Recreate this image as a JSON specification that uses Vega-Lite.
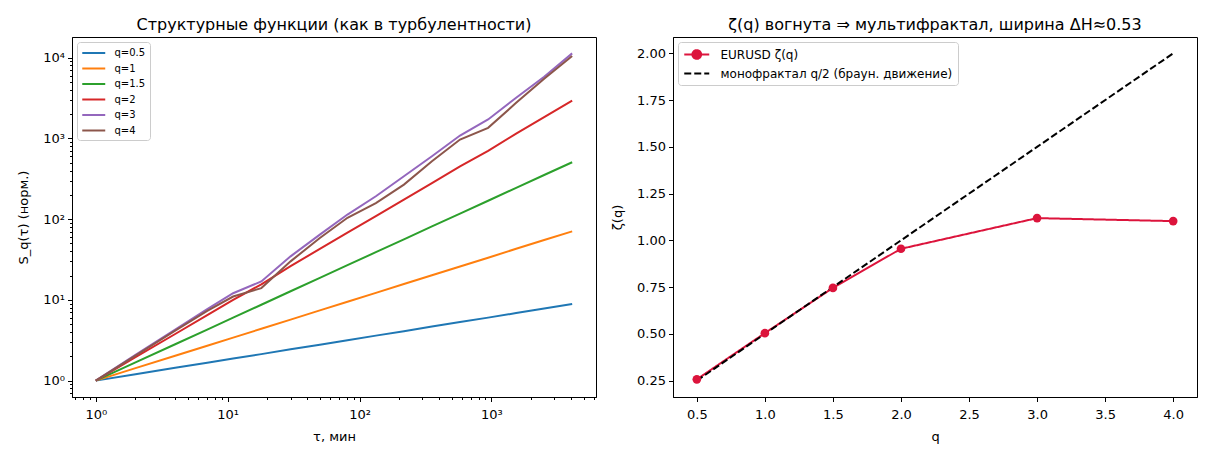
{
  "$schema": "https://vega.github.io/schema/vega-lite/v6.json",
  "padding": {"left": 17, "top": 16, "right": 5, "bottom": 5},
  "spacing": 14,
  "background": "white",
  "config": {
    "font": "DejaVu Sans",
    "view": {"stroke": "black", "strokeWidth": 1},
    "title": {"font": "DejaVu Sans", "fontSize": 16, "fontWeight": "normal", "color": "black", "offset": 4},
    "axis": {
      "grid": false,
      "labelFont": "DejaVu Sans", "labelFontSize": 13, "labelColor": "black",
      "titleFont": "DejaVu Sans", "titleFontSize": 13, "titleFontWeight": "normal", "titleColor": "black",
      "tickColor": "black", "domainColor": "black", "tickSize": 4.5, "labelPadding": 3
    },
    "axisX": {"labelPadding": 7, "titlePadding": 9},
    "axisY": {"labelPadding": 3, "titlePadding": 12},
    "legend": {"labelFont": "DejaVu Sans", "labelColor": "black", "title": null, "labelLimit": 0}
  },
  "datasets": {
    "sq": [
      {"tau": 1, "S": 1, "series": "q=0.5"}, {"tau": 2, "S": 1.2, "series": "q=0.5"}, {"tau": 4, "S": 1.44, "series": "q=0.5"}, {"tau": 7, "S": 1.67, "series": "q=0.5"}, {"tau": 11, "S": 1.88, "series": "q=0.5"}, {"tau": 18, "S": 2.13, "series": "q=0.5"}, {"tau": 30, "S": 2.44, "series": "q=0.5"}, {"tau": 50, "S": 2.79, "series": "q=0.5"}, {"tau": 81, "S": 3.17, "series": "q=0.5"}, {"tau": 133, "S": 3.61, "series": "q=0.5"}, {"tau": 217, "S": 4.1, "series": "q=0.5"}, {"tau": 354, "S": 4.67, "series": "q=0.5"}, {"tau": 578, "S": 5.31, "series": "q=0.5"}, {"tau": 944, "S": 6.03, "series": "q=0.5"}, {"tau": 1540, "S": 6.86, "series": "q=0.5"}, {"tau": 2512, "S": 7.8, "series": "q=0.5"}, {"tau": 4096, "S": 8.87, "series": "q=0.5"},
      {"tau": 1, "S": 1, "series": "q=1"}, {"tau": 2, "S": 1.43, "series": "q=1"}, {"tau": 4, "S": 2.03, "series": "q=1"}, {"tau": 7, "S": 2.71, "series": "q=1"}, {"tau": 11, "S": 3.41, "series": "q=1"}, {"tau": 18, "S": 4.39, "series": "q=1"}, {"tau": 30, "S": 5.7, "series": "q=1"}, {"tau": 50, "S": 7.41, "series": "q=1"}, {"tau": 81, "S": 9.48, "series": "q=1"}, {"tau": 133, "S": 12.2, "series": "q=1"}, {"tau": 217, "S": 15.7, "series": "q=1"}, {"tau": 354, "S": 20.2, "series": "q=1"}, {"tau": 578, "S": 25.9, "series": "q=1"}, {"tau": 944, "S": 33.3, "series": "q=1"}, {"tau": 1540, "S": 42.9, "series": "q=1"}, {"tau": 2512, "S": 55.1, "series": "q=1"}, {"tau": 4096, "S": 70.6, "series": "q=1"},
      {"tau": 1, "S": 1, "series": "q=1.5"}, {"tau": 2, "S": 1.68, "series": "q=1.5"}, {"tau": 4, "S": 2.82, "series": "q=1.5"}, {"tau": 7, "S": 4.29, "series": "q=1.5"}, {"tau": 11, "S": 6.02, "series": "q=1.5"}, {"tau": 18, "S": 8.71, "series": "q=1.5"}, {"tau": 30, "S": 12.8, "series": "q=1.5"}, {"tau": 50, "S": 18.7, "series": "q=1.5"}, {"tau": 81, "S": 26.9, "series": "q=1.5"}, {"tau": 133, "S": 39.0, "series": "q=1.5"}, {"tau": 217, "S": 56.2, "series": "q=1.5"}, {"tau": 354, "S": 81.2, "series": "q=1.5"}, {"tau": 578, "S": 117, "series": "q=1.5"}, {"tau": 944, "S": 169, "series": "q=1.5"}, {"tau": 1540, "S": 244, "series": "q=1.5"}, {"tau": 2512, "S": 352, "series": "q=1.5"}, {"tau": 4096, "S": 507, "series": "q=1.5"},
      {"tau": 1, "S": 1, "series": "q=2"}, {"tau": 2, "S": 1.95, "series": "q=2"}, {"tau": 4, "S": 3.78, "series": "q=2"}, {"tau": 7, "S": 6.47, "series": "q=2"}, {"tau": 11, "S": 9.98, "series": "q=2"}, {"tau": 18, "S": 15.6, "series": "q=2"}, {"tau": 30, "S": 26.2, "series": "q=2"}, {"tau": 50, "S": 42.8, "series": "q=2"}, {"tau": 81, "S": 67.9, "series": "q=2"}, {"tau": 133, "S": 109, "series": "q=2"}, {"tau": 217, "S": 175, "series": "q=2"}, {"tau": 354, "S": 280, "series": "q=2"}, {"tau": 578, "S": 449, "series": "q=2"}, {"tau": 944, "S": 700, "series": "q=2"}, {"tau": 1540, "S": 1148, "series": "q=2"}, {"tau": 2512, "S": 1837, "series": "q=2"}, {"tau": 4096, "S": 2931, "series": "q=2"},
      {"tau": 1, "S": 1, "series": "q=3"}, {"tau": 2, "S": 2.08, "series": "q=3"}, {"tau": 4, "S": 4.29, "series": "q=3"}, {"tau": 7, "S": 7.67, "series": "q=3"}, {"tau": 11, "S": 12.1, "series": "q=3"}, {"tau": 18, "S": 16.9, "series": "q=3"}, {"tau": 30, "S": 34.6, "series": "q=3"}, {"tau": 50, "S": 64.3, "series": "q=3"}, {"tau": 81, "S": 114, "series": "q=3"}, {"tau": 133, "S": 192, "series": "q=3"}, {"tau": 217, "S": 340, "series": "q=3"}, {"tau": 354, "S": 601, "series": "q=3"}, {"tau": 578, "S": 1086, "series": "q=3"}, {"tau": 944, "S": 1718, "series": "q=3"}, {"tau": 1540, "S": 3192, "series": "q=3"}, {"tau": 2512, "S": 5808, "series": "q=3"}, {"tau": 4096, "S": 11300, "series": "q=3"},
      {"tau": 1, "S": 1, "series": "q=4"}, {"tau": 2, "S": 2.04, "series": "q=4"}, {"tau": 4, "S": 4.17, "series": "q=4"}, {"tau": 7, "S": 7.33, "series": "q=4"}, {"tau": 11, "S": 11.0, "series": "q=4"}, {"tau": 18, "S": 14.0, "series": "q=4"}, {"tau": 30, "S": 30.0, "series": "q=4"}, {"tau": 50, "S": 58.5, "series": "q=4"}, {"tau": 81, "S": 104, "series": "q=4"}, {"tau": 133, "S": 158, "series": "q=4"}, {"tau": 217, "S": 268, "series": "q=4"}, {"tau": 354, "S": 521, "series": "q=4"}, {"tau": 578, "S": 968, "series": "q=4"}, {"tau": 944, "S": 1352, "series": "q=4"}, {"tau": 1540, "S": 2761, "series": "q=4"}, {"tau": 2512, "S": 5483, "series": "q=4"}, {"tau": 4096, "S": 10470, "series": "q=4"}
    ],
    "zeta": [
      {"q": 0.5, "zeta": 0.257, "series": "EURUSD ζ(q)"},
      {"q": 1.0, "zeta": 0.504, "series": "EURUSD ζ(q)"},
      {"q": 1.5, "zeta": 0.746, "series": "EURUSD ζ(q)"},
      {"q": 2.0, "zeta": 0.955, "series": "EURUSD ζ(q)"},
      {"q": 3.0, "zeta": 1.119, "series": "EURUSD ζ(q)"},
      {"q": 4.0, "zeta": 1.103, "series": "EURUSD ζ(q)"},
      {"q": 0.5, "zeta": 0.25, "series": "монофрактал q/2 (браун. движение)"},
      {"q": 1.0, "zeta": 0.5, "series": "монофрактал q/2 (браун. движение)"},
      {"q": 1.5, "zeta": 0.75, "series": "монофрактал q/2 (браун. движение)"},
      {"q": 2.0, "zeta": 1.0, "series": "монофрактал q/2 (браун. движение)"},
      {"q": 3.0, "zeta": 1.5, "series": "монофрактал q/2 (браун. движение)"},
      {"q": 4.0, "zeta": 2.0, "series": "монофрактал q/2 (браун. движение)"}
    ]
  },
  "resolve": {"scale": {"color": "independent", "strokeDash": "independent", "x": "independent", "y": "independent"}, "legend": {"color": "independent"}},
  "hconcat": [
    {
      "width": 524, "height": 360,
      "title": "Структурные функции (как в турбулентности)",
      "data": {"name": "sq"},
      "mark": {"type": "line", "strokeWidth": 2, "clip": true},
      "encoding": {
        "x": {
          "field": "tau", "type": "quantitative",
          "scale": {"type": "log", "domain": [0.66, 6210], "nice": false},
          "axis": {
            "title": "τ, мин",
            "values": [0.7, 0.8, 0.9, 1, 2, 3, 4, 5, 6, 7, 8, 9, 10, 20, 30, 40, 50, 60, 70, 80, 90, 100, 200, 300, 400, 500, 600, 700, 800, 900, 1000, 2000, 3000, 4000, 5000, 6000],
            "labelExpr": "abs(log(datum.value)/LN10 - round(log(datum.value)/LN10)) < 0.001 ? '10' + ['⁰','¹','²','³','⁴'][round(log(datum.value)/LN10)] : ''",
            "tickSize": {"condition": {"test": "abs(log(datum.value)/LN10 - round(log(datum.value)/LN10)) < 0.001", "value": 4.5}, "value": 2.5},
            "labelOverlap": false
          }
        },
        "y": {
          "field": "S", "type": "quantitative",
          "scale": {"type": "log", "domain": [0.627, 18030], "nice": false},
          "axis": {
            "title": "S_q(τ) (норм.)",
            "values": [0.7, 0.8, 0.9, 1, 2, 3, 4, 5, 6, 7, 8, 9, 10, 20, 30, 40, 50, 60, 70, 80, 90, 100, 200, 300, 400, 500, 600, 700, 800, 900, 1000, 2000, 3000, 4000, 5000, 6000, 7000, 8000, 9000, 10000],
            "labelExpr": "abs(log(datum.value)/LN10 - round(log(datum.value)/LN10)) < 0.001 ? '10' + ['⁰','¹','²','³','⁴'][round(log(datum.value)/LN10)] : ''",
            "tickSize": {"condition": {"test": "abs(log(datum.value)/LN10 - round(log(datum.value)/LN10)) < 0.001", "value": 4.5}, "value": 2.5},
            "labelOverlap": false
          }
        },
        "color": {
          "field": "series", "type": "nominal",
          "scale": {"domain": ["q=0.5", "q=1", "q=1.5", "q=2", "q=3", "q=4"], "range": ["#1f77b4", "#ff7f0e", "#2ca02c", "#d62728", "#9467bd", "#8c564b"]},
          "legend": {
            "orient": "top-left", "offset": 5, "title": null,
            "symbolType": "M-1,0L3,0", "symbolSize": 132, "symbolStrokeWidth": 2,
            "labelFontSize": 10, "labelOffset": 19.5, "rowPadding": 3.5,
            "padding": 4, "fillColor": "rgba(255,255,255,0.8)", "strokeColor": "#cccccc", "cornerRadius": 3
          }
        }
      }
    },
    {
      "width": 524, "height": 360,
      "title": "ζ(q) вогнута ⇒ мультифрактал, ширина ΔH≈0.53",
      "data": {"name": "zeta"},
      "encoding": {
        "x": {
          "field": "q", "type": "quantitative",
          "scale": {"domain": [0.325, 4.175], "nice": false, "zero": false},
          "axis": {"title": "q", "values": [0.5, 1, 1.5, 2, 2.5, 3, 3.5, 4], "format": ".1f"}
        },
        "y": {
          "field": "zeta", "type": "quantitative",
          "scale": {"domain": [0.1625, 2.0875], "nice": false, "zero": false},
          "axis": {"title": "ζ(q)", "values": [0.25, 0.5, 0.75, 1, 1.25, 1.5, 1.75, 2], "format": ".2f"}
        }
      },
      "layer": [
        {
          "mark": {"type": "line", "strokeWidth": 2},
          "encoding": {
            "color": {
              "field": "series", "type": "nominal",
              "scale": {"domain": ["EURUSD ζ(q)", "монофрактал q/2 (браун. движение)"], "range": ["#dc143c", "#000000"]},
              "legend": {
                "orient": "top-left", "offset": 5, "title": null,
                "symbolType": "M-1,0L3,0", "symbolSize": 156, "symbolStrokeWidth": 2,
                "labelFontSize": 12, "labelOffset": 22.5, "rowPadding": 3,
                "padding": 5, "fillColor": "rgba(255,255,255,0.8)", "strokeColor": "#cccccc", "cornerRadius": 3,
                "encode": {
                  "symbols": {
                    "update": {
                      "shape": {"signal": "datum.index == 0 ? 'M-1,0L3,0M1.7,0A0.7,0.7,0,1,1,0.3,0A0.7,0.7,0,1,1,1.7,0Z' : 'M-1,0L3,0'"},
                      "fill": {"signal": "datum.index == 0 ? '#dc143c' : 'transparent'"}
                    }
                  }
                }
              }
            },
            "strokeDash": {
              "field": "series", "type": "nominal",
              "scale": {"domain": ["EURUSD ζ(q)", "монофрактал q/2 (браун. движение)"], "range": [[1, 0], [7, 3]]},
              "legend": null
            },
            "order": {"field": "q"}
          }
        },
        {
          "transform": [{"filter": "datum.series == 'EURUSD ζ(q)'"}],
          "mark": {"type": "point", "filled": true, "size": 75, "opacity": 1, "color": "#dc143c"},
          "encoding": {}
        }
      ]
    }
  ]
}
